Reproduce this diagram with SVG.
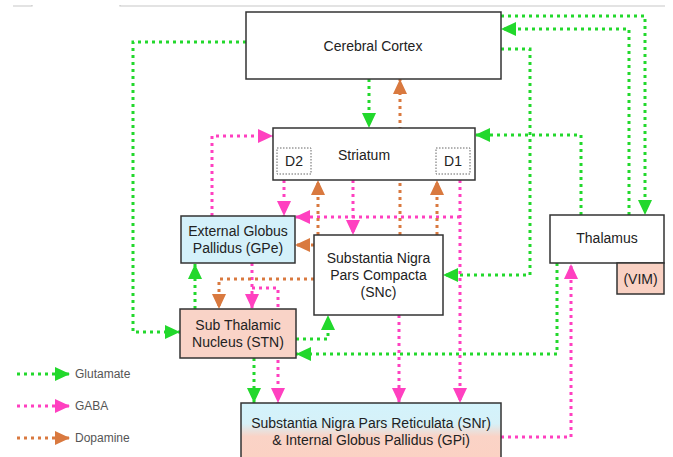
<svg xmlns="http://www.w3.org/2000/svg" width="673" height="457" viewBox="0 0 673 457">
  <style>
    .box { stroke: #333; stroke-width: 1.5; }
    .sub { fill: none; stroke: #666; stroke-width: 1; stroke-dasharray: 1.5 1.5; }
    .lbl { font-family: "Liberation Sans", Arial, sans-serif; font-size: 14px; fill: #222; text-anchor: middle; }
    .leg { font-family: "Liberation Sans", Arial, sans-serif; font-size: 12px; fill: #555; }
    .w { fill: none; stroke-width: 3; stroke-dasharray: 3 4; }
    .glu { stroke: #22d82c; }
    .gaba { stroke: #ff40c0; }
    .dop { stroke: #d9793f; }
    .rule { fill: none; stroke: #c8c8c8; stroke-width: 1.2; }
  </style>
  <defs>
    <marker id="aGlu" viewBox="0 0 15 14" markerUnits="userSpaceOnUse" markerWidth="15" markerHeight="14" refX="15" refY="7" orient="auto">
      <path d="M0,0 L15,7 L0,14 z" fill="#22d82c"/>
    </marker>
    <marker id="aGaba" viewBox="0 0 15 14" markerUnits="userSpaceOnUse" markerWidth="15" markerHeight="14" refX="15" refY="7" orient="auto">
      <path d="M0,0 L15,7 L0,14 z" fill="#ff40c0"/>
    </marker>
    <marker id="aDop" viewBox="0 0 15 14" markerUnits="userSpaceOnUse" markerWidth="15" markerHeight="14" refX="15" refY="7" orient="auto">
      <path d="M0,0 L15,7 L0,14 z" fill="#d9793f"/>
    </marker>
    <linearGradient id="snrFill" gradientUnits="userSpaceOnUse" x1="0" y1="403" x2="0" y2="457">
      <stop offset="0" stop-color="#d3f3fc"/>
      <stop offset="0.38" stop-color="#d6f1f8"/>
      <stop offset="0.62" stop-color="#fad3c6"/>
      <stop offset="1" stop-color="#fbd2c4"/>
    </linearGradient>
  </defs>

  <rect width="673" height="457" fill="#fff"/>

  <!-- page rules at the top -->
  <path class="rule" d="M13,6 H32 V5 M120,5 V6 H665"/>

  <g id="connectors">
    <!-- glutamate -->
    <path class="w glu" marker-end="url(#aGlu)" d="M246,42 H133 V332 H180"/>
    <path class="w glu" marker-end="url(#aGlu)" d="M369,79 V128"/>
    <path class="w glu" marker-end="url(#aGlu)" d="M501,16 H645 V215"/>
    <path class="w glu" marker-end="url(#aGlu)" d="M629,215 V29 H501"/>
    <path class="w glu" marker-end="url(#aGlu)" d="M501,49 H530 V275 H443"/>
    <path class="w glu" marker-end="url(#aGlu)" d="M581,215 V135 H475"/>
    <path class="w glu" marker-end="url(#aGlu)" d="M557,263 V354 H296"/>
    <path class="w glu" marker-end="url(#aGlu)" d="M195,309 V264"/>
    <path class="w glu" marker-end="url(#aGlu)" d="M296,339 H328 V315"/>
    <path class="w glu" marker-end="url(#aGlu)" d="M254,358 V403"/>
    <!-- GABA -->
    <path class="w gaba" marker-end="url(#aGaba)" d="M212,216 V136 H273"/>
    <path class="w gaba" marker-end="url(#aGaba)" d="M284,180 V216"/>
    <path class="w gaba" marker-end="url(#aGaba)" d="M353,180 V235"/>
    <path class="w gaba" marker-end="url(#aGaba)" d="M460,180 V403"/>
    <path class="w gaba" marker-end="url(#aGaba)" d="M460,217 H295"/>
    <path class="w gaba" marker-end="url(#aGaba)" d="M252,263 V309"/>
    <path class="w gaba" marker-end="url(#aGaba)" d="M252,288 H278 V403"/>
    <path class="w gaba" marker-end="url(#aGaba)" d="M399,315 V403"/>
    <path class="w gaba" marker-end="url(#aGaba)" d="M501,437 H571 V264"/>
    <!-- dopamine -->
    <path class="w dop" marker-end="url(#aDop)" d="M400,235 V79"/>
    <path class="w dop" marker-end="url(#aDop)" d="M318,235 V180"/>
    <path class="w dop" marker-end="url(#aDop)" d="M437,235 V180"/>
    <path class="w dop" marker-end="url(#aDop)" d="M314,245 H295"/>
    <path class="w dop" marker-end="url(#aDop)" d="M314,279 H219 V309"/>
  </g>

  <g id="cortex">
    <rect class="box" x="246" y="12" width="255" height="67" fill="#fff"/>
    <text class="lbl" x="373" y="51">Cerebral Cortex</text>
  </g>

  <g id="striatum">
    <rect class="box" x="273" y="128" width="202" height="52" fill="#fff"/>
    <text class="lbl" x="364" y="160">Striatum</text>
    <rect class="sub" x="277" y="148" width="34" height="26"/>
    <text class="lbl" x="294" y="166">D2</text>
    <rect class="sub" x="436" y="148" width="34" height="26"/>
    <text class="lbl" x="453" y="166">D1</text>
  </g>

  <g id="gpe">
    <rect class="box" x="181" y="216" width="114" height="47" fill="#d4f1fa"/>
    <text class="lbl" x="238" y="236">External Globus</text>
    <text class="lbl" x="238" y="253">Pallidus (GPe)</text>
  </g>

  <g id="snc">
    <rect class="box" x="314" y="235" width="129" height="80" fill="#fff"/>
    <text class="lbl" x="378.5" y="263">Substantia Nigra</text>
    <text class="lbl" x="378.5" y="280">Pars Compacta</text>
    <text class="lbl" x="378.5" y="297">(SNc)</text>
  </g>

  <g id="stn">
    <rect class="box" x="180" y="309" width="116" height="49" fill="#f9d3c7"/>
    <text class="lbl" x="238" y="330">Sub Thalamic</text>
    <text class="lbl" x="238" y="347">Nucleus (STN)</text>
  </g>

  <g id="thalamus">
    <rect class="box" x="550" y="215" width="114" height="48" fill="#fff"/>
    <text class="lbl" x="607" y="243">Thalamus</text>
  </g>

  <g id="vim">
    <rect class="box" x="617" y="263" width="47" height="31" fill="#f9d1c3"/>
    <text class="lbl" x="640.5" y="284">(VIM)</text>
  </g>

  <g id="snr-gpi">
    <rect class="box" x="241" y="403" width="260" height="70" fill="url(#snrFill)"/>
    <text class="lbl" x="371" y="428">Substantia Nigra Pars Reticulata (SNr)</text>
    <text class="lbl" x="371" y="445">&amp; Internal Globus Pallidus (GPi)</text>
  </g>

  <g id="legend">
    <path class="w glu" marker-end="url(#aGlu)" d="M17,374 H70"/>
    <text class="leg" x="75" y="378">Glutamate</text>
    <path class="w gaba" marker-end="url(#aGaba)" d="M17,406 H70"/>
    <text class="leg" x="75" y="410">GABA</text>
    <path class="w dop" marker-end="url(#aDop)" d="M17,438 H70"/>
    <text class="leg" x="75" y="442">Dopamine</text>
  </g>
</svg>
